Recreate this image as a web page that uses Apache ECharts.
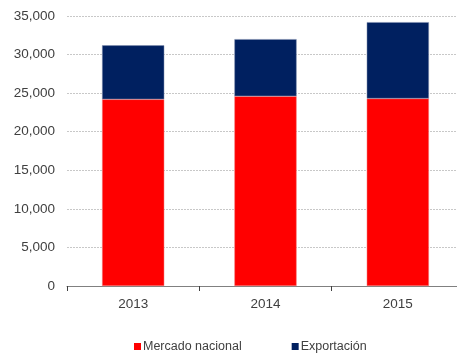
<!DOCTYPE html>
<html>
<head>
<meta charset="utf-8">
<script src="https://cdn.jsdelivr.net/npm/echarts@6/dist/echarts.min.js"></script>
<style>
  html, body { margin: 0; padding: 0; background: #fff; overflow: hidden; }
  /* the plot area runs past the right edge of the window */
  #chart { width: 470px; height: 353px; }
</style>
</head>
<body>
<div id="chart"></div>
<script>
// Annual volumes: domestic market and exports
const years = ['2013', '2014', '2015'];
const mercadoNacional = [24200, 24600, 24300];
const exportacion = [7000, 7400, 9900];
const yTicks = [0, 5000, 10000, 15000, 20000, 25000, 30000, 35000];

const chart = echarts.init(document.getElementById('chart'));
const fontFamily = '"Liberation Sans", Arial, sans-serif';

chart.setOption({
  animation: false,
  grid: { left: 67, width: 397, top: 16, height: 270, containLabel: false },
  legend: {
    top: 340,
    left: 134,
    padding: 0,
    itemWidth: 7,
    itemHeight: 7,
    itemGap: 50,
    icon: 'rect',
    itemStyle: { borderWidth: 0 },
    textStyle: { fontFamily, fontSize: 12.5, color: '#404040', padding: [0, 0, 0, -3] },
    data: ['Mercado nacional', 'Exportación']
  },
  xAxis: {
    type: 'category',
    data: years,
    axisLine: { lineStyle: { color: '#808080', width: 1 } },
    axisTick: { show: true, length: 5, lineStyle: { color: '#404040' } },
    axisLabel: { fontFamily, fontSize: 13.5, color: '#404040', margin: 11 }
  },
  yAxis: {
    type: 'value',
    min: yTicks[0],
    max: yTicks[yTicks.length - 1],
    interval: 5000,
    axisLine: { show: false },
    axisTick: { show: false },
    axisLabel: {
      fontFamily, fontSize: 13.5, color: '#404040', margin: 12,
      formatter: v => v.toLocaleString('en-US')
    },
    splitLine: { lineStyle: { color: '#c8c8c8', type: [2, 1], width: 1 } }
  },
  series: [
    {
      name: 'Mercado nacional',
      type: 'bar',
      stack: 'total',
      barWidth: '47%',
      data: mercadoNacional,
      itemStyle: { color: '#ff0000', borderColor: '#f08080', borderWidth: 0.5 }
    },
    {
      name: 'Exportación',
      type: 'bar',
      stack: 'total',
      data: exportacion,
      itemStyle: { color: '#002060', borderColor: '#8090b0', borderWidth: 0.5 }
    }
  ]
});
</script>
</body>
</html>
